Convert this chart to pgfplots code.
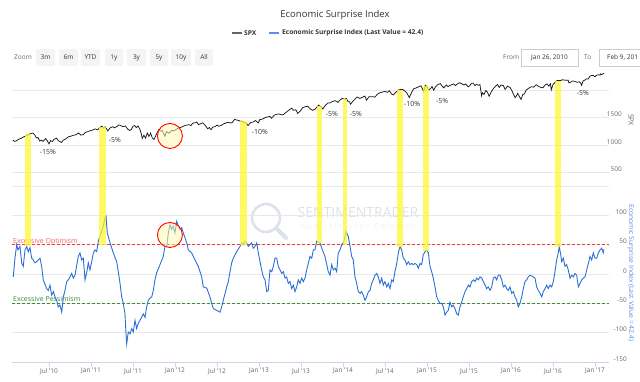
\documentclass[border=0pt]{standalone}
\usepackage{pgfplots}
\pgfplotsset{compat=1.18}
\usepackage{fontspec}
\setmainfont{Open Sans}
\newcommand\fs[1]{\fontsize{#1}{#1}\selectfont}
\definecolor{gridc}{HTML}{E8E8E8}
\definecolor{labc}{HTML}{666666}
\definecolor{txt}{HTML}{333333}
\definecolor{esiblue}{HTML}{2B6FD6}
\definecolor{axisc}{HTML}{CCD6EB}
\definecolor{hl}{HTML}{FFF733}
\definecolor{optred}{HTML}{F03A3A}
\definecolor{pessgreen}{HTML}{3A8A3A}
\definecolor{titleblue}{HTML}{5B8EE6}
\definecolor{btn}{HTML}{F4F4F4}
\definecolor{wm}{HTML}{DCE2E9}
\definecolor{circfill}{HTML}{FFF7B0}
\begin{document}
\begin{tikzpicture}
\path[use as bounding box] (0pt,0pt) rectangle (640pt,382pt);
\begin{scope}[x=1pt,y=1pt]
% title and legend
\node[text=txt, font=\fs{9.5}] at (335,367) {Economic Surprise Index};
\draw[black!60, line width=1.4pt] (232,349) -- (242,349);
\node[anchor=west, inner sep=0pt, text=txt, font=\fs{6.6}\bfseries] at (244,349) {SPX};
\draw[titleblue, line width=1.4pt] (269,349) -- (279,349);
\node[anchor=west, inner sep=0pt, text=txt, font=\fs{6.6}\bfseries] at (282,349) {Economic Surprise Index (Last Value = 42.4)};
% range selector
\node[anchor=west, inner sep=0pt, text=labc, font=\fs{6.5}] at (14,324.5) {Zoom};
\foreach \a/\b/\t in {36/55/3m, 59/78/6m, 81/100/YTD, 105/123/1y, 127/146/3y, 150/168/5y, 171/191/10y, 195/213/All}{
  \fill[btn, rounded corners=1.5pt] (\a,316) rectangle (\b,333);
  \node[text=txt, font=\fs{6.5}, inner sep=0pt] at ({(\a+\b)/2},324.5) {\t};
}
\node[anchor=west, inner sep=0pt, text=labc, font=\fs{6.5}] at (503,324.5) {From};
\draw[black!20, fill=white] (521,316) rectangle (578,333);
\node[text=txt, font=\fs{6.5}, inner sep=0pt] at (549.5,324.5) {Jan 26, 2010};
\node[anchor=west, inner sep=0pt, text=labc, font=\fs{6.5}] at (584,324.5) {To};
\draw[black!20, fill=white] (599,316) rectangle (641,333);
\node[anchor=west, text=txt, font=\fs{6.5}, inner sep=0pt] at (607,324.5) {Feb 9, 201};
% watermark
\draw[wm, line width=2.6pt] (266,164) circle[radius=14];
\draw[wm, line width=4pt, line cap=round] (276,154) -- (286,144);
\node[text=wm, font=\fs{14}] at (358,169) {SENTIMENTRADER};
\node[text=wm!90!black!25, font=\fs{8.5}] at (358,155) {A\,n\,a\,l\,y\,s\,i\,s\, \,o\,v\,e\,r\, \,E\,m\,o\,t\,i\,o\,n};
% axis titles
\node[rotate=-90, text=labc, font=\fs{7}] at (631,262) {SPX};
\node[rotate=-90, text=titleblue, font=\fs{6.8}] at (631,109) {Economic Surprise Index (Last Value = 42.4)};
\end{scope}

%================ TOP PANE (SPX)
\begin{axis}[
  at={(12pt,196pt)}, anchor=south west, scale only axis,
  width=597pt, height=120pt,
  xmin=2010.0599, xmax=2017.167, ymin=255, ymax=2436,
  xtick=\empty,
  ytick={500,1000,1500,2000}, yticklabels={500,1000,1500,{}},
  yticklabel pos=right,
  ymajorgrids, grid style={gridc, line width=0.6pt},
  axis line style={draw=none}, tick style={draw=none},
  major tick length=0pt,
  /pgf/number format/assume math mode=true,
  yticklabel style={font=\fs{6.5}, text=labc, anchor=east, xshift=13pt, yshift=3pt, inner sep=0pt},
]
\addplot[black!90, line width=0.75pt] coordinates {
(2010.070,1092) (2010.090,1066) (2010.110,1075) (2010.140,1105) (2010.170,1122) (2010.200,1150) (2010.230,1166) (2010.260,1194) (2010.290,1211) (2010.310,1217) (2010.330,1187) (2010.350,1130) (2010.370,1135) (2010.390,1071) (2010.410,1089) (2010.430,1065) (2010.460,1117) (2010.480,1076) (2010.500,1022) (2010.520,1078) (2010.540,1065) (2010.560,1102) (2010.590,1125) (2010.610,1080) (2010.650,1047) (2010.670,1090) (2010.700,1110) (2010.730,1148) (2010.760,1160) (2010.790,1176) (2010.820,1185) (2010.850,1219) (2010.880,1180) (2010.910,1188) (2010.930,1225) (2010.960,1243) (2010.990,1258)
(2011.020,1272) (2011.050,1293) (2011.080,1276) (2011.100,1310) (2011.130,1343) (2011.150,1306) (2011.170,1330) (2011.200,1256) (2011.230,1313) (2011.260,1333) (2011.280,1312) (2011.310,1337) (2011.330,1364) (2011.350,1357) (2011.380,1333) (2011.410,1345) (2011.440,1286) (2011.460,1265) (2011.480,1280) (2011.500,1340) (2011.520,1353) (2011.540,1316) (2011.560,1345) (2011.580,1292) (2011.600,1200) (2011.610,1119) (2011.630,1178) (2011.650,1124) (2011.670,1219) (2011.690,1154) (2011.710,1216) (2011.730,1130) (2011.750,1099) (2011.780,1200) (2011.810,1285) (2011.830,1253) (2011.850,1263) (2011.880,1158) (2011.900,1244) (2011.930,1212) (2011.960,1265) (2011.990,1257)
(2012.020,1290) (2012.050,1315) (2012.080,1325) (2012.110,1350) (2012.140,1362) (2012.170,1370) (2012.190,1352) (2012.210,1395) (2012.240,1405) (2012.260,1419) (2012.280,1370) (2012.310,1390) (2012.330,1405) (2012.360,1355) (2012.390,1295) (2012.410,1318) (2012.430,1278) (2012.450,1325) (2012.480,1335) (2012.500,1362) (2012.520,1342) (2012.550,1355) (2012.580,1385) (2012.600,1395) (2012.630,1415) (2012.660,1400) (2012.680,1405) (2012.710,1466) (2012.730,1456) (2012.760,1445) (2012.780,1430) (2012.800,1433) (2012.820,1412) (2012.850,1395) (2012.870,1353) (2012.900,1406) (2012.930,1418) (2012.960,1445) (2012.990,1402)
(2013.010,1462) (2013.040,1470) (2013.070,1495) (2013.100,1510) (2013.130,1520) (2013.150,1487) (2013.180,1540) (2013.210,1560) (2013.240,1563) (2013.270,1550) (2013.290,1552) (2013.310,1578) (2013.340,1614) (2013.370,1650) (2013.390,1669) (2013.410,1631) (2013.440,1640) (2013.460,1573) (2013.490,1615) (2013.520,1680) (2013.550,1695) (2013.580,1706) (2013.610,1655) (2013.640,1630) (2013.670,1655) (2013.710,1725) (2013.740,1690) (2013.760,1655) (2013.790,1720) (2013.820,1762) (2013.850,1767) (2013.880,1795) (2013.910,1806) (2013.940,1775) (2013.960,1810) (2013.990,1848)
(2014.020,1830) (2014.040,1848) (2014.060,1790) (2014.080,1783) (2014.090,1742) (2014.120,1800) (2014.150,1845) (2014.170,1873) (2014.200,1846) (2014.230,1866) (2014.260,1890) (2014.280,1815) (2014.310,1879) (2014.330,1878) (2014.360,1878) (2014.380,1870) (2014.410,1924) (2014.440,1950) (2014.470,1962) (2014.500,1973) (2014.530,1958) (2014.550,1988) (2014.580,1925) (2014.600,1910) (2014.630,1958) (2014.660,2000) (2014.690,2011) (2014.710,2011) (2014.740,1977) (2014.760,1946) (2014.790,1862) (2014.820,1965) (2014.840,2018) (2014.860,2031) (2014.890,2050) (2014.920,2072) (2014.930,2075) (2014.960,1972) (2014.980,2085) (2015.000,2059)
(2015.020,2002) (2015.040,2020) (2015.060,2063) (2015.080,1995) (2015.100,2055) (2015.130,2100) (2015.160,2115) (2015.180,2070) (2015.200,2040) (2015.230,2090) (2015.250,2060) (2015.270,2080) (2015.300,2100) (2015.320,2110) (2015.340,2080) (2015.370,2120) (2015.390,2131) (2015.420,2108) (2015.440,2090) (2015.460,2110) (2015.490,2058) (2015.510,2078) (2015.530,2120) (2015.550,2125) (2015.570,2080) (2015.590,2104) (2015.610,2085) (2015.630,2100) (2015.640,2000) (2015.650,1893) (2015.660,1950) (2015.680,1920) (2015.700,1990) (2015.720,1960) (2015.740,1884) (2015.760,1950) (2015.790,2025) (2015.820,2075) (2015.840,2100) (2015.860,2045) (2015.880,2090) (2015.910,2080) (2015.930,2010) (2015.960,2070) (2015.990,2044)
(2016.010,1990) (2016.030,1922) (2016.050,1859) (2016.070,1905) (2016.080,1940) (2016.100,1880) (2016.120,1829) (2016.140,1915) (2016.160,1930) (2016.180,1995) (2016.200,2020) (2016.230,2050) (2016.250,2060) (2016.270,2050) (2016.300,2095) (2016.330,2065) (2016.350,2050) (2016.380,2040) (2016.410,2097) (2016.430,2110) (2016.450,2070) (2016.470,2113) (2016.480,2001) (2016.500,2100) (2016.520,2130) (2016.540,2165) (2016.560,2175) (2016.590,2170) (2016.610,2185) (2016.640,2180) (2016.660,2175) (2016.680,2180) (2016.690,2128) (2016.710,2140) (2016.730,2165) (2016.750,2160) (2016.770,2150) (2016.790,2140) (2016.810,2150) (2016.830,2126) (2016.840,2085) (2016.860,2165) (2016.880,2180) (2016.900,2204) (2016.920,2200) (2016.940,2250) (2016.960,2265) (2016.980,2263) (2016.999,2239)
(2017.020,2270) (2017.040,2275) (2017.060,2270) (2017.070,2295) (2017.080,2279) (2017.100,2297) (2017.107,2307)
};
% highlight bars (top part)
\addplot[fill=hl, draw=none, fill opacity=0.75] coordinates {(2010.215,200) (2010.215,1200) (2010.286,1200) (2010.286,200)} -- cycle;
\addplot[fill=hl, draw=none, fill opacity=0.75] coordinates {(2011.096,200) (2011.096,1325) (2011.179,1325) (2011.179,200)} -- cycle;
\addplot[fill=hl, draw=none, fill opacity=0.75] coordinates {(2012.774,200) (2012.774,1440) (2012.857,1440) (2012.857,200)} -- cycle;
\addplot[fill=hl, draw=none, fill opacity=0.75] coordinates {(2013.691,200) (2013.691,1710) (2013.750,1710) (2013.750,200)} -- cycle;
\addplot[fill=hl, draw=none, fill opacity=0.75] coordinates {(2014.000,200) (2014.000,1840) (2014.048,1840) (2014.048,200)} -- cycle;
\addplot[fill=hl, draw=none, fill opacity=0.75] coordinates {(2014.643,200) (2014.643,2005) (2014.715,2005) (2014.715,200)} -- cycle;
\addplot[fill=hl, draw=none, fill opacity=0.75] coordinates {(2014.953,200) (2014.953,2075) (2015.024,2075) (2015.024,200)} -- cycle;
\addplot[fill=hl, draw=none, fill opacity=0.75] coordinates {(2016.524,200) (2016.524,2165) (2016.596,2165) (2016.596,200)} -- cycle;
% drawdown labels
\node[text=txt, font=\fs{7}] at (axis cs:2010.488,873) {-15\%};
\node[text=txt, font=\fs{7}] at (axis cs:2011.286,1091) {-5\%};
\node[text=txt, font=\fs{7}] at (axis cs:2013.012,1236) {-10\%};
\node[text=txt, font=\fs{7}] at (axis cs:2013.869,1564) {-5\%};
\node[text=txt, font=\fs{7}] at (axis cs:2014.155,1564) {-5\%};
\node[text=txt, font=\fs{7}] at (axis cs:2014.822,1745) {-10\%};
\node[text=txt, font=\fs{7}] at (axis cs:2015.179,1800) {-5\%};
\node[text=txt, font=\fs{7}] at (axis cs:2016.857,1945) {-5\%};
\draw[red, line width=0.9pt, fill=circfill, fill opacity=0.55] (axis cs:2011.94,1164) circle[radius=12.5pt];
\end{axis}

%================ BOTTOM PANE (ESI)
\begin{axis}[
  at={(12pt,20pt)}, anchor=south west, scale only axis,
  width=597pt, height=176pt,
  xmin=2010.0599, xmax=2017.167, ymin=-150, ymax=150,
  xtick={2010.5,2011,2011.5,2012,2012.5,2013,2013.5,2014,2014.5,2015,2015.5,2016,2016.5,2017},
  xticklabels={Jul '10,Jan '11,Jul '11,Jan '12,Jul '12,Jan '13,Jul '13,Jan '14,Jul '14,Jan '15,Jul '15,Jan '16,Jul '16,Jan '17},
  ytick={-150,-100,-50,0,50,100,150}, yticklabels={-150,-100,-50,0,50,100,{}},
  axis x line*=bottom, axis y line*=right,
  x axis line style={draw=axisc, line width=0.6pt, -},
  y axis line style={draw=none},
  xtick style={draw=axisc, line width=0.6pt},
  ytick style={draw=none},
  tick align=outside, major tick length=5pt,
  ymajorgrids, grid style={gridc, line width=0.6pt},
  /pgf/number format/assume math mode=true,
  xticklabel style={font=\fs{6.5}, text=labc, inner sep=1pt},
  yticklabel style={font=\fs{6.5}, text=labc, anchor=east, xshift=13pt, yshift=3pt, inner sep=0pt},
]
\addplot[optred, line width=0.7pt, dash pattern=on 3pt off 2pt] coordinates {(2010.0599,50) (2017.167,50)};
\addplot[pessgreen, line width=0.7pt, dash pattern=on 3pt off 2pt] coordinates {(2010.0599,-50) (2017.167,-50)};
\node[anchor=base west, inner sep=0pt, text=optred!80, font=\fs{7}] at (axis cs:2010.072,52) {Excessive Optimism};
\node[anchor=base west, inner sep=0pt, text=pessgreen, font=\fs{7}] at (axis cs:2010.072,-47) {Excessive Pessimism};
\addplot[esiblue, line width=0.9pt] coordinates {
(2010.075,-5) (2010.096,28) (2010.116,50) (2010.131,41) (2010.155,47) (2010.175,19) (2010.194,13) (2010.215,41) (2010.235,47) (2010.254,38) (2010.274,45) (2010.294,27) (2010.313,24) (2010.334,19) (2010.354,21) (2010.393,27) (2010.413,13) (2010.432,-10) (2010.473,-25) (2010.492,-28) (2010.512,-19) (2010.532,-36) (2010.552,-30) (2010.572,-39) (2010.592,-45) (2010.611,-56) (2010.631,-53) (2010.652,-65) (2010.671,-39) (2010.691,-28) (2010.711,-13) (2010.730,-10) (2010.750,-5) (2010.771,1) (2010.790,-7) (2010.810,-2) (2010.849,30) (2010.869,36) (2010.890,24) (2010.909,27) (2010.929,-10) (2010.949,2) (2010.968,19) (2010.988,7)
(2011.009,21) (2011.028,36) (2011.048,41) (2011.068,38) (2011.087,56) (2011.107,64) (2011.128,73) (2011.147,82) (2011.167,96) (2011.179,99) (2011.194,70) (2011.227,53) (2011.266,36) (2011.306,21) (2011.325,4) (2011.346,-16) (2011.366,-39) (2011.385,-50) (2011.405,-68) (2011.417,-102) (2011.425,-119) (2011.444,-99) (2011.465,-102) (2011.485,-93) (2011.504,-99) (2011.524,-79) (2011.544,-93) (2011.563,-84) (2011.584,-79) (2011.623,-68) (2011.643,-74) (2011.663,-56) (2011.682,-45) (2011.703,-41) (2011.723,-39) (2011.742,-28) (2011.762,-10) (2011.782,2) (2011.822,16) (2011.861,30) (2011.881,47) (2011.902,47) (2011.921,70) (2011.941,84) (2011.961,76) (2011.980,82)
(2012.000,70) (2012.021,90) (2012.040,82) (2012.060,76) (2012.080,79) (2012.099,70) (2012.119,62) (2012.140,53) (2012.159,41) (2012.199,36) (2012.238,24) (2012.278,13) (2012.298,4) (2012.318,-5) (2012.337,-22) (2012.378,-24) (2012.417,-39) (2012.437,-50) (2012.456,-59) (2012.497,-62) (2012.536,-65) (2012.556,-56) (2012.575,-45) (2012.616,-22) (2012.635,-13) (2012.655,4) (2012.675,19) (2012.694,27) (2012.735,38) (2012.774,47) (2012.794,53) (2012.813,50) (2012.834,56) (2012.854,53) (2012.873,47) (2012.893,50) (2012.913,53) (2012.932,44) (2012.953,47) (2012.973,53) (2012.992,36)
(2013.032,7) (2013.052,-5) (2013.072,-10) (2013.092,-30) (2013.111,-28) (2013.131,7) (2013.152,4) (2013.171,13) (2013.191,27) (2013.211,27) (2013.230,13) (2013.250,7) (2013.271,1) (2013.290,4) (2013.310,-7) (2013.330,-5) (2013.349,-16) (2013.369,-13) (2013.390,-25) (2013.409,-19) (2013.429,-30) (2013.449,-22) (2013.468,-10) (2013.488,-16) (2013.509,-7) (2013.528,-13) (2013.548,-7) (2013.568,7) (2013.587,18) (2013.607,30) (2013.628,27) (2013.647,41) (2013.667,41) (2013.687,56) (2013.727,53) (2013.747,44) (2013.786,30) (2013.825,4) (2013.846,-2) (2013.866,16) (2013.885,7) (2013.905,10) (2013.925,4) (2013.944,36) (2013.965,41) (2013.985,50)
(2014.004,53) (2014.024,64) (2014.036,73) (2014.063,64) (2014.084,47) (2014.104,30) (2014.123,24) (2014.143,-5) (2014.163,-16) (2014.182,-30) (2014.203,-33) (2014.223,-30) (2014.242,-36) (2014.262,-45) (2014.282,-39) (2014.302,-30) (2014.322,-28) (2014.342,-16) (2014.361,-10) (2014.381,-2) (2014.402,1) (2014.421,-5) (2014.441,-16) (2014.461,-7) (2014.480,-19) (2014.500,-13) (2014.521,-22) (2014.540,-16) (2014.560,-25) (2014.580,-10) (2014.599,-13) (2014.619,4) (2014.640,18) (2014.659,36) (2014.679,47) (2014.699,41) (2014.718,27) (2014.738,24) (2014.759,16) (2014.778,21) (2014.798,16) (2014.818,18) (2014.837,16) (2014.857,18) (2014.878,16) (2014.897,10) (2014.917,18) (2014.937,16) (2014.956,33) (2014.977,38) (2014.997,41)
(2015.016,36) (2015.036,13) (2015.056,4) (2015.075,-7) (2015.096,-22) (2015.116,-39) (2015.135,-45) (2015.155,-50) (2015.175,-50) (2015.194,-56) (2015.215,-70) (2015.235,-65) (2015.254,-62) (2015.274,-48) (2015.294,-56) (2015.313,-53) (2015.334,-59) (2015.354,-68) (2015.373,-70) (2015.393,-56) (2015.413,-48) (2015.432,-39) (2015.453,-30) (2015.473,-25) (2015.492,-19) (2015.512,-22) (2015.532,-13) (2015.552,-10) (2015.572,-13) (2015.592,-7) (2015.611,-10) (2015.631,-5) (2015.652,-7) (2015.671,-13) (2015.691,-19) (2015.711,-25) (2015.730,-22) (2015.750,-28) (2015.771,-22) (2015.790,-7) (2015.810,-5) (2015.830,-10) (2015.849,-2) (2015.869,-2) (2015.890,-10) (2015.909,-22) (2015.929,-19) (2015.949,-25) (2015.968,-28) (2015.988,-22)
(2016.009,-33) (2016.028,-30) (2016.048,-39) (2016.068,-45) (2016.087,-56) (2016.107,-50) (2016.128,-39) (2016.147,-25) (2016.167,-13) (2016.187,-10) (2016.206,-5) (2016.227,-2) (2016.266,-5) (2016.286,-7) (2016.306,-22) (2016.325,-28) (2016.346,-33) (2016.366,-39) (2016.385,-30) (2016.405,-25) (2016.425,-19) (2016.444,-25) (2016.465,-19) (2016.485,-22) (2016.504,-13) (2016.524,4) (2016.544,24) (2016.563,36) (2016.575,47) (2016.592,33) (2016.604,21) (2016.623,27) (2016.643,13) (2016.663,16) (2016.682,7) (2016.703,-7) (2016.723,-2) (2016.742,-5) (2016.762,1) (2016.782,-2) (2016.802,-22) (2016.822,-16) (2016.842,-10) (2016.861,-7) (2016.881,-5) (2016.902,7) (2016.921,18) (2016.941,30) (2016.961,24) (2016.980,36)
(2017.000,27) (2017.021,27) (2017.040,36) (2017.060,41) (2017.080,44) (2017.099,36) (2017.107,42)
};
% highlight bars (bottom part)
\addplot[fill=hl, draw=none, fill opacity=0.75] coordinates {(2010.215,160) (2010.215,48) (2010.286,48) (2010.286,160)} -- cycle;
\addplot[fill=hl, draw=none, fill opacity=0.75] coordinates {(2011.096,160) (2011.096,50) (2011.179,50) (2011.179,160)} -- cycle;
\addplot[fill=hl, draw=none, fill opacity=0.75] coordinates {(2012.774,160) (2012.774,50) (2012.857,50) (2012.857,160)} -- cycle;
\addplot[fill=hl, draw=none, fill opacity=0.75] coordinates {(2013.691,160) (2013.691,52) (2013.750,52) (2013.750,160)} -- cycle;
\addplot[fill=hl, draw=none, fill opacity=0.75] coordinates {(2014.000,160) (2014.000,50) (2014.048,50) (2014.048,160)} -- cycle;
\addplot[fill=hl, draw=none, fill opacity=0.75] coordinates {(2014.643,160) (2014.643,46) (2014.715,46) (2014.715,160)} -- cycle;
\addplot[fill=hl, draw=none, fill opacity=0.75] coordinates {(2014.953,160) (2014.953,40) (2015.024,40) (2015.024,160)} -- cycle;
\addplot[fill=hl, draw=none, fill opacity=0.75] coordinates {(2016.524,160) (2016.524,46) (2016.596,46) (2016.596,160)} -- cycle;
\draw[red, line width=0.9pt, fill=circfill, fill opacity=0.55] (axis cs:2011.94,66.5) circle[radius=12.5pt];
\end{axis}
\end{tikzpicture}
\end{document}
